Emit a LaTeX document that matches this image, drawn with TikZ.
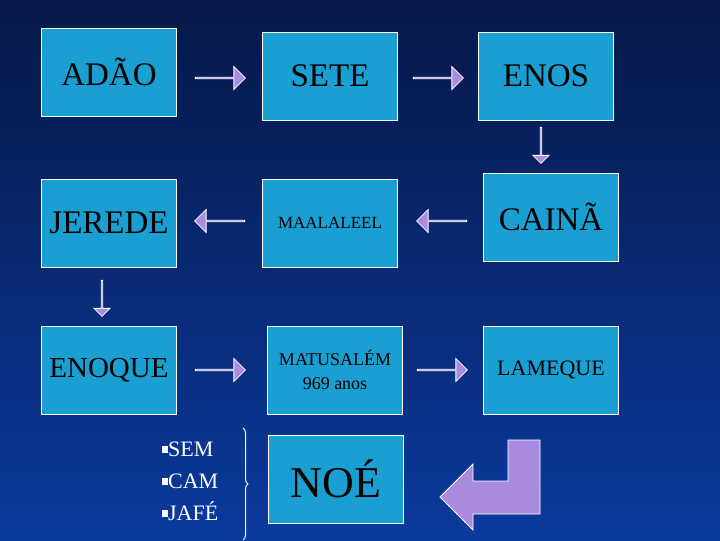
\documentclass[tikz,border=0pt]{standalone}
\usepackage{fontspec}
\setmainfont{Liberation Serif}
\usetikzlibrary{shapes.arrows,decorations.pathreplacing}
\definecolor{boxc}{HTML}{1A9FD2}
\definecolor{arrc}{HTML}{A98BE0}
\definecolor{bgtop}{HTML}{061847}
\definecolor{bgbot}{HTML}{0B3A9E}
\newcommand{\sqb}{\rule[0.15em]{0.3em}{0.3em}}
\begin{document}
\begin{tikzpicture}[x=1pt,y=-1pt,
  bx/.style={draw=white,line width=0.8pt,fill=boxc,minimum width=135pt,minimum height=88pt,inner sep=0pt,text=black,font=\fontsize{33}{35}\selectfont},
  ar/.style={single arrow,draw=white,line width=0.8pt,fill=arrc,minimum height=50pt,minimum width=23pt,single arrow head extend=6pt,inner sep=0pt},
  ard/.style={ar,rotate=-90,minimum height=36pt,minimum width=16pt,single arrow head extend=4pt}]
\shade[top color=bgtop,bottom color=bgbot] (0,0) rectangle (720,540);
\node[bx] (adao) at (109,72) {ADÃO};
\node[bx] (sete) at (330,76) {SETE};
\node[bx] (enos) at (546,76) {ENOS};
\node[bx] (jerede) at (109,223) {JEREDE};
\node[bx,font=\fontsize{17}{19}\selectfont] (maal) at (330,223) {MAALALEEL};
\node[bx] (caina) at (551,217) {CAINÃ};
\node[bx,font=\fontsize{29}{31}\selectfont] (enoque) at (109,370) {ENOQUE};
\node[bx,font=\fontsize{18}{24}\selectfont,align=center] (matu) at (335,370) {MATUSALÉM\\969 anos};
\node[bx,font=\fontsize{22}{24}\selectfont] (lameque) at (551,370) {LAMEQUE};
\node[bx,font=\fontsize{44}{46}\selectfont] (noe) at (336,479) {NOÉ};
\node[ar] (a1) at (220,78) {};
\node[ar] (a2) at (438,78) {};
\node[ard] (a3) at (541,145) {};
\node[ar,rotate=180] (a4) at (220,221) {};
\node[ar,rotate=180] (a5) at (442,221) {};
\node[ard] (a6) at (102,298) {};
\node[ar] (a7) at (220,370) {};
\node[ar] (a8) at (442,370) {};
\draw[draw=white,line width=0.8pt,fill=arrc] (508,440) -- (540,440) -- (540,514) -- (473,514) -- (473,530) -- (440,497) -- (473,464) -- (473,481) -- (508,481) -- cycle;
\node[text=white,align=left,anchor=west,font=\fontsize{22}{32}\selectfont] (list) at (158,481) {\sqb SEM\\\sqb CAM\\\sqb JAFÉ};
\draw[white,line width=1pt,decorate,decoration={brace,amplitude=5pt}] (243,428) -- (243,540);
\end{tikzpicture}
\end{document}
